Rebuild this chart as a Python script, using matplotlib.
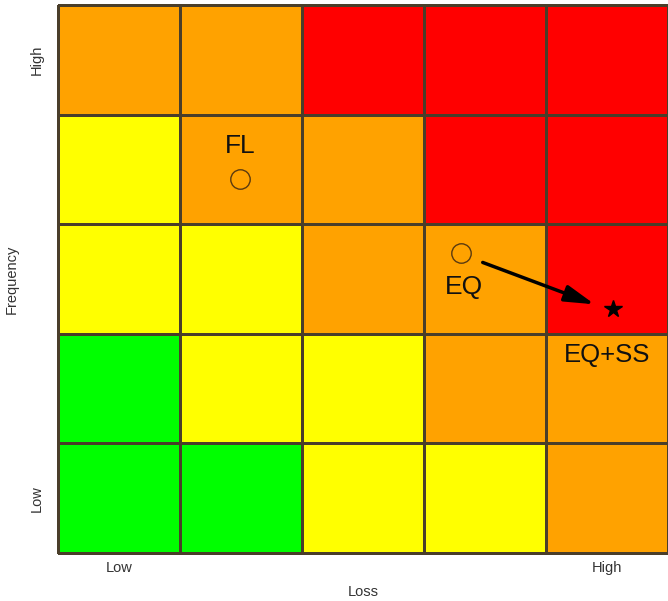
import numpy as np
import matplotlib.pyplot as plt
from matplotlib.colors import ListedColormap
from matplotlib.patches import FancyArrowPatch

plt.rcParams['font.family'] = ['Liberation Sans', 'DejaVu Sans']

# risk level per cell, rows from Low (bottom) to High (top) frequency
# 0 = green, 1 = yellow, 2 = orange, 3 = red
risk = [
    [0, 0, 1, 1, 2],
    [0, 1, 1, 2, 2],
    [1, 1, 2, 2, 3],
    [1, 2, 2, 3, 3],
    [2, 2, 3, 3, 3],
]
risk_colors = ['#00ff00', '#ffff00', '#ffa200', '#ff0000']

loss_ticks = ['Low', 'High']
freq_ticks = ['Low', 'High']

# hazard positions (loss, frequency) in cell units
fl_pos = (1.49, 3.41)
eq_pos = (3.30, 2.74)
eqss_pos = (4.55, 2.23)

fig = plt.figure(figsize=(6.68, 6.01), dpi=100)
ax = fig.add_axes([58 / 668, 48 / 601, 610 / 668, 548 / 601])

mesh = ax.pcolormesh(np.array(risk), cmap=ListedColormap(risk_colors), vmin=-0.5, vmax=3.5,
                     edgecolors='#4a3e2a', linewidth=0.9)
mesh.set_clip_on(False)
ax.set_xlim(0, 5)
ax.set_ylim(0, 5)

for s in ax.spines.values():
    s.set_visible(False)

ax.set_xticks([0.5, 4.5])
ax.set_xticklabels(loss_ticks, fontsize=10.5, color='#333333')
ax.set_yticks([0.5, 4.5])
ax.set_yticklabels(freq_ticks, fontsize=10.5, color='#333333', rotation=90, va='center')
ax.tick_params(axis='x', length=0, pad=6)
ax.tick_params(axis='y', length=0, pad=10)
ax.set_xlabel('Loss', fontsize=10.5, color='#333333', labelpad=7)
ax.set_ylabel('Frequency', fontsize=10.5, color='#333333', labelpad=8)

circ = dict(marker='o', markersize=14, markerfacecolor='none',
            markeredgecolor='#5a3a10', markeredgewidth=1.0, linestyle='none')
ax.plot(*fl_pos, **circ)
ax.plot(*eq_pos, **circ)
ax.plot(*eqss_pos, marker='*', markersize=13, color='black', linestyle='none')

ax.text(fl_pos[0], fl_pos[1] + 0.30, 'FL', fontsize=19, ha='center', va='center', color='#111111')
ax.text(eq_pos[0] + 0.03, eq_pos[1] - 0.31, 'EQ', fontsize=19, ha='center', va='center', color='#111111')
ax.text(eqss_pos[0] - 0.05, eqss_pos[1] - 0.42, 'EQ+SS', fontsize=18.5, ha='center', va='center', color='#111111')

arrow = FancyArrowPatch((3.46, 2.66), (4.42, 2.26),
                        arrowstyle='-|>,head_length=0.9,head_width=0.25',
                        linewidth=2.5, color='black', mutation_scale=20)
ax.add_patch(arrow)

fig.savefig('out.png', dpi=100)
